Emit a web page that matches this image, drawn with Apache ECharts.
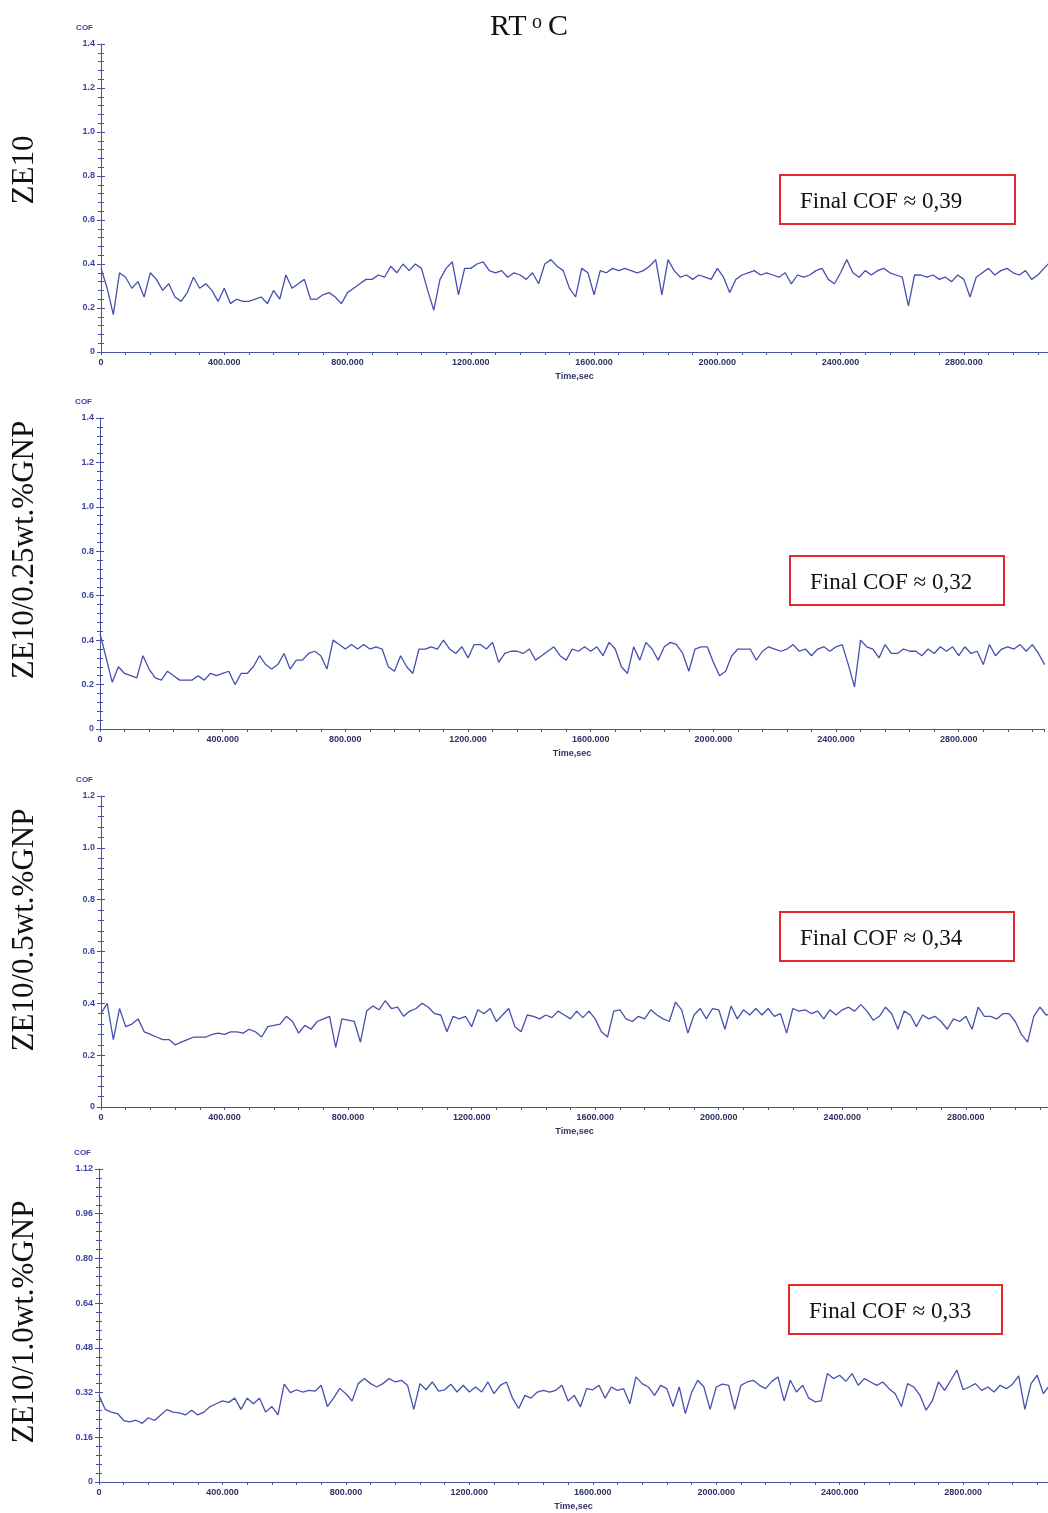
<!DOCTYPE html>
<html>
<head>
    <meta charset="utf-8">
    <title>COF - RT</title>
    <style>
        html, body { margin: 0; padding: 0; background: #fff; }
        #container { width: 1048px; height: 1513px; }
    </style>
</head>
<body>
<div id="container"></div>
<script src="https://cdn.jsdelivr.net/npm/echarts@6.0.0/dist/echarts.min.js"></script>
<script type="text/javascript">
    // samples, one every 20 s (0 ... 3080 s)
    var sampleStep = 20;

    var cofZE10 = [
        0.38, 0.29, 0.17, 0.36, 0.34, 0.29, 0.32, 0.25, 0.36, 0.33,
        0.28, 0.31, 0.25, 0.23, 0.27, 0.34, 0.29, 0.31, 0.28, 0.23,
        0.29, 0.22, 0.24, 0.23, 0.23, 0.24, 0.25, 0.22, 0.28, 0.24,
        0.35, 0.29, 0.31, 0.33, 0.24, 0.24, 0.26, 0.27, 0.25, 0.22,
        0.27, 0.29, 0.31, 0.33, 0.33, 0.35, 0.34, 0.39, 0.36, 0.40,
        0.37, 0.40, 0.38, 0.28, 0.19, 0.33, 0.38, 0.41, 0.26, 0.38,
        0.38, 0.40, 0.41, 0.37, 0.36, 0.37, 0.34, 0.36, 0.35, 0.33,
        0.36, 0.31, 0.40, 0.42, 0.39, 0.37, 0.29, 0.25, 0.38, 0.36,
        0.26, 0.37, 0.36, 0.38, 0.37, 0.38, 0.37, 0.36, 0.37, 0.39,
        0.42, 0.26, 0.42, 0.37, 0.34, 0.35, 0.33, 0.35, 0.34, 0.33,
        0.38, 0.34, 0.27, 0.33, 0.35, 0.36, 0.37, 0.35, 0.36, 0.35,
        0.34, 0.36, 0.31, 0.35, 0.34, 0.35, 0.37, 0.38, 0.33, 0.31,
        0.36, 0.42, 0.36, 0.34, 0.37, 0.35, 0.37, 0.38, 0.36, 0.35,
        0.34, 0.21, 0.35, 0.35, 0.34, 0.35, 0.33, 0.34, 0.32, 0.35,
        0.33, 0.25, 0.34, 0.36, 0.38, 0.35, 0.37, 0.38, 0.36, 0.35,
        0.37, 0.33, 0.35, 0.38, 0.41
    ];

    var cofGNP025 = [
        0.43, 0.32, 0.21, 0.28, 0.25, 0.24, 0.23, 0.33, 0.27, 0.23,
        0.22, 0.26, 0.24, 0.22, 0.22, 0.22, 0.24, 0.22, 0.25, 0.24,
        0.25, 0.26, 0.20, 0.25, 0.25, 0.28, 0.33, 0.29, 0.27, 0.29,
        0.34, 0.27, 0.31, 0.31, 0.34, 0.35, 0.33, 0.27, 0.40, 0.38,
        0.36, 0.38, 0.36, 0.38, 0.36, 0.37, 0.36, 0.28, 0.26, 0.33,
        0.28, 0.25, 0.36, 0.36, 0.37, 0.36, 0.40, 0.36, 0.34, 0.37,
        0.32, 0.38, 0.38, 0.36, 0.39, 0.30, 0.34, 0.35, 0.35, 0.34,
        0.36, 0.31, 0.33, 0.35, 0.37, 0.33, 0.31, 0.36, 0.35, 0.37,
        0.35, 0.37, 0.33, 0.39, 0.36, 0.28, 0.25, 0.37, 0.31, 0.39,
        0.36, 0.31, 0.37, 0.39, 0.38, 0.34, 0.26, 0.36, 0.37, 0.37,
        0.30, 0.24, 0.26, 0.33, 0.36, 0.36, 0.36, 0.31, 0.35, 0.37,
        0.36, 0.35, 0.36, 0.38, 0.35, 0.36, 0.33, 0.36, 0.37, 0.35,
        0.37, 0.38, 0.29, 0.19, 0.40, 0.37, 0.36, 0.32, 0.38, 0.34,
        0.34, 0.36, 0.35, 0.35, 0.33, 0.36, 0.34, 0.37, 0.35, 0.37,
        0.33, 0.37, 0.34, 0.35, 0.29, 0.38, 0.33, 0.36, 0.37, 0.36,
        0.38, 0.35, 0.38, 0.34, 0.29
    ];

    var cofGNP05 = [
        0.36, 0.40, 0.26, 0.38, 0.31, 0.32, 0.34, 0.29, 0.28, 0.27,
        0.26, 0.26, 0.24, 0.25, 0.26, 0.27, 0.27, 0.27, 0.28, 0.285,
        0.28, 0.29, 0.29, 0.285, 0.30, 0.29, 0.27, 0.31, 0.315, 0.32,
        0.35, 0.33, 0.285, 0.315, 0.30, 0.33, 0.34, 0.35, 0.23, 0.34,
        0.335, 0.33, 0.25, 0.37, 0.39, 0.375, 0.41, 0.38, 0.385, 0.35,
        0.37, 0.38, 0.40, 0.385, 0.36, 0.355, 0.29, 0.35, 0.34, 0.35,
        0.31, 0.375, 0.36, 0.38, 0.33, 0.355, 0.38, 0.31, 0.29, 0.355,
        0.35, 0.34, 0.355, 0.345, 0.37, 0.355, 0.34, 0.37, 0.345, 0.37,
        0.34, 0.29, 0.27, 0.37, 0.375, 0.34, 0.33, 0.35, 0.34, 0.375,
        0.355, 0.34, 0.33, 0.405, 0.375, 0.285, 0.355, 0.38, 0.34, 0.38,
        0.375, 0.30, 0.39, 0.34, 0.375, 0.355, 0.38, 0.355, 0.38, 0.35,
        0.36, 0.285, 0.38, 0.37, 0.375, 0.36, 0.37, 0.34, 0.375, 0.355,
        0.375, 0.385, 0.37, 0.395, 0.37, 0.335, 0.35, 0.385, 0.36, 0.30,
        0.37, 0.355, 0.31, 0.355, 0.34, 0.35, 0.33, 0.30, 0.34, 0.33,
        0.35, 0.30, 0.385, 0.35, 0.35, 0.34, 0.36, 0.36, 0.33, 0.28,
        0.25, 0.35, 0.385, 0.355, 0.36
    ];

    var cofGNP10 = [
        0.31, 0.26, 0.25, 0.245, 0.22, 0.215, 0.221, 0.21, 0.23, 0.22,
        0.24, 0.259, 0.25, 0.247, 0.24, 0.257, 0.24, 0.25, 0.27, 0.28,
        0.29, 0.285, 0.30, 0.26, 0.30, 0.28, 0.30, 0.25, 0.27, 0.24,
        0.35, 0.32, 0.33, 0.322, 0.328, 0.325, 0.346, 0.27, 0.30, 0.335,
        0.316, 0.29, 0.352, 0.37, 0.352, 0.34, 0.352, 0.37, 0.358, 0.364,
        0.345, 0.26, 0.352, 0.33, 0.358, 0.325, 0.33, 0.35, 0.322, 0.346,
        0.322, 0.34, 0.322, 0.358, 0.316, 0.346, 0.358, 0.30, 0.263, 0.31,
        0.30, 0.322, 0.328, 0.322, 0.328, 0.346, 0.29, 0.31, 0.269, 0.334,
        0.33, 0.346, 0.30, 0.34, 0.328, 0.334, 0.28, 0.376, 0.352, 0.34,
        0.31, 0.346, 0.334, 0.27, 0.34, 0.245, 0.32, 0.364, 0.34, 0.26,
        0.34, 0.35, 0.346, 0.26, 0.346, 0.358, 0.364, 0.346, 0.334, 0.36,
        0.376, 0.29, 0.364, 0.322, 0.346, 0.30, 0.287, 0.29, 0.388, 0.37,
        0.382, 0.36, 0.388, 0.346, 0.37, 0.358, 0.346, 0.358, 0.334, 0.316,
        0.27, 0.352, 0.34, 0.31, 0.257, 0.29, 0.358, 0.328, 0.364, 0.40,
        0.33, 0.34, 0.352, 0.328, 0.34, 0.322, 0.346, 0.334, 0.35, 0.38,
        0.26, 0.352, 0.382, 0.316, 0.346
    ];

    var seriesValues = [cofZE10, cofGNP025, cofGNP05, cofGNP10];
    var panelNames = ['ZE10', 'ZE10/0.25wt.%GNP', 'ZE10/0.5wt.%GNP', 'ZE10/1.0wt.%GNP'];
    var finalCof = ['0,39', '0,32', '0,34', '0,33'];

    // axis ranges
    var timeMax = [3073, 3078, 3066, 3075];
    var timeStep = 400;
    var cofMax = [1.4, 1.4, 1.2, 1.12];
    var cofStep = [0.2, 0.2, 0.2, 0.16];
    var cofDigits = [1, 1, 1, 2];

    // layout
    var gridBoxes = [
        {left: 101, top: 44, width: 947, height: 308},
        {left: 100, top: 418, width: 944, height: 311},
        {left: 101, top: 796, width: 947, height: 311},
        {left: 99, top: 1169, width: 949, height: 313}
    ];
    var noteBoxes = [
        {x: 780, y: 175, w: 235, h: 49},
        {x: 790, y: 556, w: 214, h: 49},
        {x: 780, y: 912, w: 234, h: 49},
        {x: 789, y: 1285, w: 213, h: 49}
    ];
    var sideLabelY = [170, 550, 930, 1322];

    var axisBlue = '#4a52a8';
    var labelBlue = '#3b44a0';
    var timeLabel = '#2d3262';
    var lineBlue = '#4650ae';
    var sans = '"Liberation Sans", Arial, sans-serif';
    var serif = '"Liberation Serif", "Times New Roman", serif';

    var myChart = echarts.init(document.getElementById('container'));

    var grids = [], xAxes = [], yAxes = [], series = [], graphics = [];

    gridBoxes.forEach(function (g, i) {
        grids.push({left: g.left, top: g.top, width: g.width, height: g.height});

        xAxes.push({
            gridIndex: i,
            type: 'value',
            position: 'bottom',
            min: 0,
            max: timeMax[i],
            interval: timeStep,
            name: 'Time,sec',
            nameLocation: 'middle',
            nameGap: 20,
            nameTextStyle: {fontSize: 9, fontWeight: 'bold', color: timeLabel, fontFamily: sans},
            axisLine: {onZero: false, lineStyle: {color: axisBlue, width: 1}},
            axisTick: {length: 3, lineStyle: {color: axisBlue}},
            minorTick: {show: true, splitNumber: 5, length: 3, lineStyle: {color: axisBlue}},
            splitLine: {show: false},
            axisLabel: {
                margin: 6, fontSize: 9, fontWeight: 'bold', color: timeLabel, fontFamily: sans,
                showMaxLabel: false,
                formatter: function (v) { return v === 0 ? '0' : v.toFixed(3); }
            }
        });

        var yCommon = {
            gridIndex: i,
            type: 'value',
            position: 'left',
            min: 0,
            max: cofMax[i],
            interval: cofStep[i],
            splitLine: {show: false}
        };
        // main axis: line, labels, outer ticks
        yAxes.push(Object.assign({}, yCommon, {
            name: 'COF',
            nameLocation: 'end',
            nameGap: 16,
            nameTextStyle: {
                fontSize: 8, fontWeight: 'bold', color: labelBlue, fontFamily: sans,
                align: 'right', verticalAlign: 'middle', padding: [0, 8, 0, 0]
            },
            axisLine: {show: true, onZero: false, lineStyle: {color: axisBlue, width: 1}},
            axisTick: {show: true, length: 4, lineStyle: {color: axisBlue}},
            minorTick: {show: true, splitNumber: 5, length: 3, lineStyle: {color: axisBlue}},
            axisLabel: {
                margin: 6, fontSize: 9, fontWeight: 'bold', color: labelBlue, fontFamily: sans,
                formatter: (function (d) {
                    return function (v) { return v === 0 ? '0' : v.toFixed(d); };
                })(cofDigits[i])
            }
        }));
        // twin axis on the same side: inner half of the crossing ticks
        yAxes.push(Object.assign({}, yCommon, {
            offset: 0,
            axisLine: {show: false, onZero: false},
            axisTick: {show: true, inside: true, length: 4, lineStyle: {color: axisBlue}},
            minorTick: {show: true, splitNumber: 5, length: 3, lineStyle: {color: axisBlue}},
            axisLabel: {show: false}
        }));

        series.push({
            type: 'line',
            xAxisIndex: i,
            yAxisIndex: i * 2,
            showSymbol: false,
            symbol: 'none',
            silent: true,
            lineStyle: {color: lineBlue, width: 1.3},
            data: seriesValues[i].map(function (v, k) { return [k * sampleStep, v]; })
        });

        graphics.push({
            type: 'text',
            x: 25,
            y: sideLabelY[i],
            rotation: Math.PI / 2,
            style: {
                text: panelNames[i],
                fontSize: 31, fontFamily: serif, fill: '#111',
                textAlign: 'center', textVerticalAlign: 'middle',
                align: 'center', verticalAlign: 'middle'
            }
        });

        var b = noteBoxes[i];
        graphics.push({
            type: 'rect',
            shape: {x: b.x, y: b.y, width: b.w, height: b.h},
            style: {fill: '#fff', stroke: '#e5262b', lineWidth: 2}
        });
        graphics.push({
            type: 'text',
            x: b.x + 20,
            y: b.y + b.h / 2 + 2,
            style: {
                text: 'Final COF \u2248 ' + finalCof[i],
                fontSize: 23, fontFamily: serif, fill: '#111',
                textAlign: 'left', textVerticalAlign: 'middle',
                align: 'left', verticalAlign: 'middle'
            }
        });
    });

    // title "RT °C" with raised o
    graphics.push({
        type: 'text', x: 490, y: 27,
        style: {text: 'RT', fontSize: 30, fontFamily: serif, fill: '#111',
            textAlign: 'left', textVerticalAlign: 'middle', align: 'left', verticalAlign: 'middle'}
    });
    graphics.push({
        type: 'text', x: 532, y: 23,
        style: {text: 'o', fontSize: 20, fontFamily: serif, fill: '#111',
            textAlign: 'left', textVerticalAlign: 'middle', align: 'left', verticalAlign: 'middle'}
    });
    graphics.push({
        type: 'text', x: 548, y: 27,
        style: {text: 'C', fontSize: 30, fontFamily: serif, fill: '#111',
            textAlign: 'left', textVerticalAlign: 'middle', align: 'left', verticalAlign: 'middle'}
    });

    var option = {
        backgroundColor: '#fff',
        animation: false,
        grid: grids,
        xAxis: xAxes,
        yAxis: yAxes,
        series: series,
        graphic: graphics
    };

    if (option && typeof option === 'object') {
        myChart.setOption(option, true);
    }
</script>
</body>
</html>
